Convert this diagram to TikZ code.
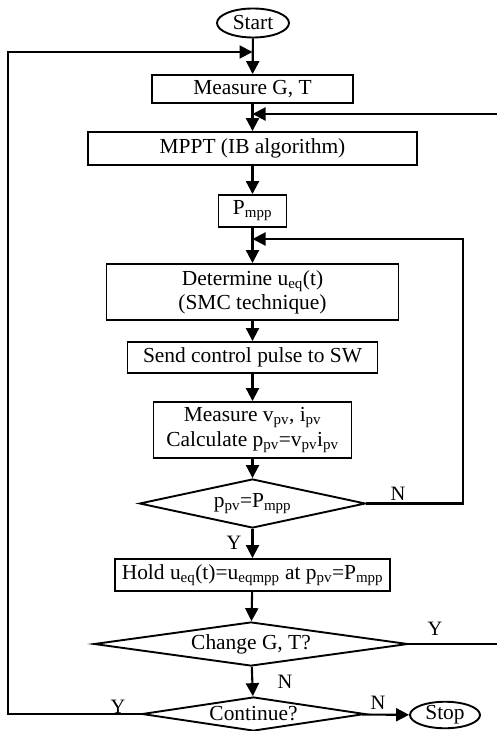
\documentclass[tikz,border=0pt]{standalone}
\usepackage{fontspec}
\setmainfont{Liberation Serif}
\usetikzlibrary{arrows.meta,shapes.geometric}
\tikzset{
  box/.style={draw, line width=1.9bp, rectangle, inner sep=0pt, align=center, font=\fontsize{21.5}{24}\selectfont},
  term/.style={draw, line width=1.9bp, ellipse, inner sep=0pt, font=\fontsize{21.5}{24}\selectfont},
  dec/.style={draw, line width=1.9bp, diamond, inner sep=0pt, font=\fontsize{21.5}{24}\selectfont},
  conn/.style={line width=2.1bp, -{Triangle[length=13bp,width=13bp]}},
  lbl/.style={inner sep=0pt, font=\fontsize{20.5}{22}\selectfont}
}
\newcommand{\sbx}[1]{\textsubscript{#1}}
\begin{document}
\begin{tikzpicture}[x=1bp,y=-1bp]
\useasboundingbox (0,0) rectangle (497,731);
\node[term, minimum width=72bp, minimum height=29bp] (start) at (253,23) {Start};
\node[box, minimum width=201bp, minimum height=28bp] (meas) at (252.5,89) {Measure G, T};
\node[box, minimum width=329bp, minimum height=33bp] (mppt) at (252.5,148.5) {MPPT (IB algorithm)};
\node[box, minimum width=68bp, minimum height=32bp] (pmpp) at (252.5,211) {P\sbx{mpp}};
\node[box, minimum width=292bp, minimum height=56bp] (det) at (252.5,292) {Determine u\sbx{eq}(t)\\(SMC technique)};
\node[box, minimum width=250bp, minimum height=31bp] (send) at (252.5,357.5) {Send control pulse to SW};
\node[box, minimum width=198bp, minimum height=56bp] (mv) at (252.5,430) {Measure v\sbx{pv}, i\sbx{pv}\\[1bp]Calculate p\sbx{pv}=v\sbx{pv}i\sbx{pv}};
\node[dec, minimum width=226bp, minimum height=49bp, aspect=4.6] (d1) at (252.5,503.5) {p\sbx{pv}=P\sbx{mpp}};
\node[box, minimum width=275bp, minimum height=32bp] (hold) at (252.5,575) {Hold u\sbx{eq}(t)=u\sbx{eqmpp} at p\sbx{pv}=P\sbx{mpp}};
\node[dec, minimum width=314bp, minimum height=44bp, aspect=7.1] (d2) at (251,644) {Change G, T?};
\node[dec, minimum width=223bp, minimum height=34bp, aspect=6.56] (d3) at (253.5,714) {Continue?};
\node[term, minimum width=70bp, minimum height=25bp] (stop) at (445,715) {Stop};

\coordinate (j1) at (252.5,52);
\coordinate (lc) at (8,52);
\coordinate (j2) at (252.5,239);
\coordinate (rc1) at (463,239);
\coordinate (j3) at (252.5,114);
\coordinate (rc2) at (499.5,114);

\draw[conn] (start) -- (meas);
\draw[conn] (meas) -- (mppt);
\draw[conn] (mppt) -- (pmpp);
\draw[conn] (pmpp) -- (det);
\draw[conn] (det) -- (send);
\draw[conn] (send) -- (mv);
\draw[conn] (mv) -- (d1);
\draw[conn] (d1) -- (hold);
\draw[conn] (hold) -- (d2);
\draw[conn] (d2) -- (d3);
\draw[conn] (d3) -- (stop);
\draw[conn] (d3.west) -| (lc) -- (j1);
\draw[conn] (d1.east) -| (rc1) -- (j2);
\draw[conn] (d2.east) -| (rc2) -- (j3);

\node[lbl] (n1) at (398,494) {N};
\node[lbl] (y1) at (234,543) {Y};
\node[lbl] (y2) at (435,629) {Y};
\node[lbl] (n2) at (285,682) {N};
\node[lbl] (y3) at (118,707) {Y};
\node[lbl] (n3) at (378,703) {N};
\end{tikzpicture}
\end{document}
